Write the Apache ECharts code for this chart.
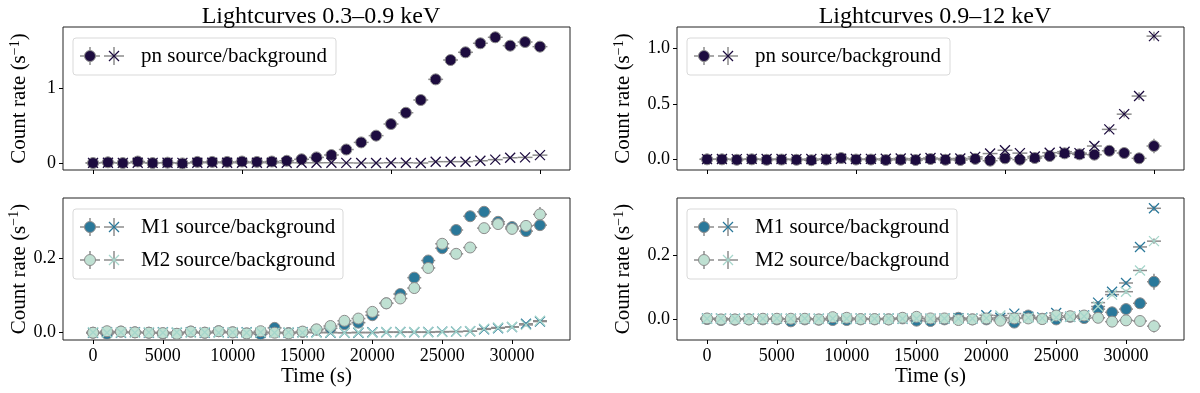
<!DOCTYPE html>
<html>
<head>
<meta charset="utf-8">
<script src="https://cdn.jsdelivr.net/npm/echarts@6/dist/echarts.min.js"></script>
<style>
  html, body { margin: 0; padding: 0; background: #fff; }
  #chart_container { width: 1200px; height: 393px; }
</style>
</head>
<body>
<div id="chart_container"></div>
<script>
// time bins (s): pn uses a coarser binning than MOS
var tPn = [0, 1067, 2133, 3200, 4267, 5333, 6400, 7467, 8533, 9600, 10667, 11733, 12800, 13867, 14933,
  16000, 17067, 18133, 19200, 20267, 21333, 22400, 23467, 24533, 25600, 26667, 27733, 28800, 29867, 30933, 32000];
var tMos = [0, 1000, 2000, 3000, 4000, 5000, 6000, 7000, 8000, 9000, 10000, 11000, 12000, 13000, 14000, 15000,
  16000, 17000, 18000, 19000, 20000, 21000, 22000, 23000, 24000, 25000, 26000, 27000, 28000, 29000, 30000, 31000, 32000];

// 0.3-0.9 keV, pn
var pnSoftSrc = [0.00, 0.01, 0.00, 0.02, 0.00, 0.005, -0.005, 0.015, 0.015, 0.015, 0.02, 0.015, 0.02, 0.03, 0.05,
  0.075, 0.107, 0.18, 0.275, 0.365, 0.52, 0.67, 0.84, 1.115, 1.373, 1.476, 1.596, 1.676, 1.564, 1.613, 1.551];
var pnSoftSrcErr = [0.02, 0.02, 0.02, 0.02, 0.02, 0.02, 0.02, 0.02, 0.02, 0.02, 0.02, 0.02, 0.02, 0.02, 0.025,
  0.025, 0.025, 0.03, 0.03, 0.03, 0.035, 0.035, 0.04, 0.04, 0.045, 0.045, 0.045, 0.045, 0.045, 0.045, 0.045];
var pnSoftBg = [0.002, 0.003, 0.002, 0.004, 0.002, 0.003, 0.002, 0.003, 0.004, 0.003, 0.003, 0.004, 0.003, 0.004,
  0.003, 0.003, 0.004, 0.002, 0.0, 0.0, 0.004, 0.004, 0.0, 0.018, 0.018, 0.018, 0.03, 0.045, 0.07, 0.075, 0.105];
var pnSoftBgErr = [0.008, 0.008, 0.008, 0.008, 0.008, 0.008, 0.008, 0.008, 0.008, 0.008, 0.008, 0.008, 0.008, 0.008,
  0.008, 0.008, 0.008, 0.008, 0.008, 0.008, 0.008, 0.008, 0.008, 0.008, 0.008, 0.008, 0.008, 0.008, 0.008, 0.008, 0.008];

// 0.9-12 keV, pn
var pnHardSrc = [0.0, 0.0, -0.004, 0.0, -0.004, -0.002, -0.004, -0.008, -0.002, 0.012, -0.002, -0.002, -0.006, -0.004,
  -0.006, 0.003, -0.004, -0.006, 0.004, -0.012, 0.009, -0.003, 0.012, 0.03, 0.054, 0.045, 0.042, 0.077, 0.057, 0.009, 0.12];
var pnHardSrcErr = [0.015, 0.015, 0.015, 0.015, 0.015, 0.015, 0.015, 0.015, 0.015, 0.015, 0.015, 0.015, 0.015, 0.015,
  0.015, 0.015, 0.015, 0.015, 0.015, 0.015, 0.015, 0.015, 0.015, 0.015, 0.015, 0.015, 0.015, 0.02, 0.02, 0.02, 0.065];
var pnHardBg = [0.002, 0.003, 0.002, 0.004, 0.003, 0.003, 0.002, 0.003, 0.004, 0.006, 0.003, 0.004, 0.005, 0.008,
  0.006, 0.012, 0.007, 0.008, 0.022, 0.052, 0.082, 0.056, 0.026, 0.06, 0.069, 0.056, 0.12, 0.27, 0.407, 0.57, 1.11];
var pnHardBgErr = [0.01, 0.01, 0.01, 0.01, 0.01, 0.01, 0.01, 0.01, 0.01, 0.01, 0.01, 0.01, 0.01, 0.01, 0.01, 0.01,
  0.01, 0.01, 0.01, 0.01, 0.01, 0.01, 0.01, 0.01, 0.01, 0.01, 0.02, 0.025, 0.03, 0.035, 0.04];

// 0.3-0.9 keV, MOS1 / MOS2
var m1SoftSrc = [0.0, -0.003, 0.003, 0.001, 0.0, -0.002, -0.003, 0.003, 0.0, 0.004, 0.001, -0.002, -0.004, 0.013,
  -0.001, 0.002, 0.008, 0.012, 0.023, 0.027, 0.047, 0.079, 0.104, 0.148, 0.194, 0.227, 0.276, 0.313, 0.325, 0.298,
  0.284, 0.273, 0.289];
var m1SoftSrcErr = [0.004, 0.004, 0.004, 0.004, 0.004, 0.004, 0.004, 0.004, 0.004, 0.004, 0.004, 0.004, 0.005, 0.005,
  0.005, 0.005, 0.006, 0.006, 0.007, 0.007, 0.008, 0.008, 0.009, 0.009, 0.01, 0.01, 0.011, 0.012, 0.013, 0.013,
  0.013, 0.014, 0.016];
var m1SoftBg = [0.0, 0.001, 0.0, 0.001, 0.0, 0.001, 0.0, 0.001, 0.0, 0.001, 0.0, 0.001, 0.0, 0.001, 0.0, 0.001,
  0.001, 0.0, 0.0, 0.0, 0.001, 0.001, 0.002, 0.001, 0.002, 0.003, 0.003, 0.004, 0.009, 0.012, 0.015, 0.024, 0.03];
var m1SoftBgErr = [0.002, 0.002, 0.002, 0.002, 0.002, 0.002, 0.002, 0.002, 0.002, 0.002, 0.002, 0.002, 0.002, 0.002,
  0.002, 0.002, 0.002, 0.002, 0.002, 0.002, 0.002, 0.002, 0.002, 0.002, 0.002, 0.002, 0.002, 0.002, 0.003, 0.003,
  0.003, 0.004, 0.004];
var m2SoftSrc = [0.0, 0.004, 0.003, 0.001, 0.0, -0.001, -0.003, 0.003, 0.0, 0.004, 0.001, -0.002, 0.004, 0.0,
  -0.002, 0.003, 0.009, 0.018, 0.032, 0.038, 0.056, 0.079, 0.092, 0.12, 0.174, 0.239, 0.212, 0.229, 0.281, 0.292,
  0.279, 0.287, 0.318];
var m2SoftSrcErr = [0.004, 0.004, 0.004, 0.004, 0.004, 0.004, 0.004, 0.004, 0.004, 0.004, 0.004, 0.004, 0.005, 0.005,
  0.005, 0.005, 0.006, 0.006, 0.007, 0.007, 0.008, 0.008, 0.009, 0.009, 0.01, 0.01, 0.011, 0.012, 0.013, 0.013,
  0.013, 0.014, 0.02];
var m2SoftBg = [0.001, 0.0, 0.001, 0.0, 0.001, 0.0, 0.001, 0.0, 0.001, 0.0, 0.001, 0.0, 0.001, 0.0, 0.001, 0.0,
  0.0, 0.001, 0.0, 0.001, 0.0, 0.002, 0.001, 0.002, 0.001, 0.002, 0.003, 0.004, 0.011, 0.014, 0.016, 0.021, 0.032];
var m2SoftBgErr = m1SoftBgErr;

// 0.9-12 keV, MOS1 / MOS2
var m1HardSrc = [0.001, -0.002, -0.001, 0.0, 0.0, 0.0, -0.006, 0.0, -0.001, -0.002, -0.002, 0.0, 0.0, 0.0, 0.003,
  -0.004, -0.005, 0.0, 0.005, 0.0, 0.0, 0.0, -0.01, 0.012, 0.002, 0.0, 0.008, 0.004, 0.032, 0.022, 0.032, 0.05, 0.117];
var m1HardSrcErr = [0.006, 0.006, 0.006, 0.006, 0.006, 0.006, 0.006, 0.006, 0.006, 0.006, 0.006, 0.006, 0.006, 0.006,
  0.006, 0.006, 0.006, 0.006, 0.006, 0.006, 0.006, 0.006, 0.007, 0.007, 0.007, 0.007, 0.008, 0.008, 0.01, 0.01,
  0.01, 0.012, 0.025];
var m1HardBg = [0.003, 0.003, 0.002, 0.003, 0.002, 0.003, 0.002, 0.003, 0.002, 0.003, 0.002, 0.003, 0.002, 0.003,
  0.002, 0.003, 0.002, 0.003, 0.004, 0.003, 0.013, 0.005, 0.018, 0.008, 0.006, 0.02, 0.008, 0.012, 0.052, 0.086,
  0.113, 0.225, 0.345];
var m1HardBgErr = [0.003, 0.003, 0.003, 0.003, 0.003, 0.003, 0.003, 0.003, 0.003, 0.003, 0.003, 0.003, 0.003, 0.003,
  0.003, 0.003, 0.003, 0.003, 0.003, 0.003, 0.003, 0.003, 0.003, 0.003, 0.003, 0.003, 0.004, 0.004, 0.005, 0.005,
  0.006, 0.007, 0.008];
var m2HardSrc = [0.003, 0.0, 0.0, 0.0, 0.002, 0.002, 0.002, 0.002, 0.0, 0.007, 0.005, 0.001, 0.001, 0.0, 0.005,
  0.008, 0.003, 0.003, -0.002, 0.0, 0.003, -0.004, 0.003, 0.003, 0.001, 0.012, 0.01, 0.012, 0.005, -0.007, -0.003,
  -0.005, -0.021];
var m2HardSrcErr = [0.006, 0.006, 0.006, 0.006, 0.006, 0.006, 0.006, 0.006, 0.006, 0.006, 0.006, 0.006, 0.006, 0.006,
  0.006, 0.006, 0.006, 0.006, 0.006, 0.006, 0.006, 0.006, 0.007, 0.007, 0.007, 0.007, 0.008, 0.008, 0.008, 0.008,
  0.009, 0.01, 0.02];
var m2HardBg = [0.002, 0.003, 0.002, 0.003, 0.002, 0.003, 0.002, 0.003, 0.002, 0.003, 0.002, 0.003, 0.002, 0.003,
  0.002, 0.003, 0.002, 0.003, 0.002, 0.003, 0.004, 0.012, 0.004, 0.005, 0.004, 0.006, 0.008, 0.01, 0.04, 0.077,
  0.086, 0.152, 0.243];
var m2HardBgErr = m1HardBgErr;

var xTicksTop = [0, 10667, 21333, 32000];
var xTicksBottom = [0, 5000, 10000, 15000, 20000, 25000, 30000];
var yTicks = [[0, 1], [0, 0.2], [0, 0.5, 1.0], [0, 0.2]];
var yRanges = [[-0.093, 1.813], [-0.0196, 0.362], [-0.096, 1.192], [-0.064, 0.377]];
var titles = ["Lightcurves 0.3–0.9 keV", "Lightcurves 0.9–12 keV"];

var C_PN = "#1d0c3f", C_M1 = "#2a789a", C_M2 = "#bfe0d2", C_M2X = "#a6d6cb", GREY = "#8c8c8c";
var FONT = '"Liberation Serif", "Times New Roman", serif';

var dom = document.getElementById("chart_container");
var myChart = echarts.init(dom, null, { renderer: "canvas" });

var grids = [
  { left: 63, top: 27, width: 507, height: 143 },
  { left: 63, top: 198, width: 507, height: 142 },
  { left: 677, top: 27, width: 507, height: 143 },
  { left: 677, top: 198, width: 507, height: 142 }
];

function rows(ts, vals, errs, xe) {
  return ts.map(function (t, i) { return [t, vals[i], errs[i], xe]; });
}

function errRender(params, api) {
  var x = api.value(0), y = api.value(1), ye = api.value(2), xe = api.value(3);
  var l = api.coord([x - xe, y]), r = api.coord([x + xe, y]);
  var t = api.coord([x, y + ye]), b = api.coord([x, y - ye]);
  var st = { stroke: GREY, lineWidth: 1.5 };
  return {
    type: "group",
    children: [
      { type: "line", shape: { x1: l[0], y1: l[1], x2: r[0], y2: r[1] }, style: st },
      { type: "line", shape: { x1: t[0], y1: t[1], x2: b[0], y2: b[1] }, style: st }
    ]
  };
}

var series = [];
function addSet(k, data, color, kind) {
  series.push({
    type: "custom", xAxisIndex: k, yAxisIndex: k, renderItem: errRender, clip: true,
    encode: { x: 0, y: 1 }, data: data, silent: true
  });
  if (kind === "o") {
    series.push({
      type: "scatter", xAxisIndex: k, yAxisIndex: k, data: data, symbol: "circle", symbolSize: 11,
      itemStyle: { color: color, borderColor: GREY, borderWidth: 1, opacity: 1 }, silent: true
    });
  } else {
    series.push({
      type: "scatter", xAxisIndex: k, yAxisIndex: k, data: data, symbol: "path://M0,0L10,10M10,0L0,10",
      symbolSize: 10,
      itemStyle: { color: "rgba(0,0,0,0)", borderColor: color, borderWidth: 1.3, opacity: 1 }, silent: true
    });
  }
}

addSet(0, rows(tPn, pnSoftSrc, pnSoftSrcErr, 533), C_PN, "o");
addSet(0, rows(tPn, pnSoftBg, pnSoftBgErr, 533), C_PN, "x");
addSet(1, rows(tMos, m1SoftSrc, m1SoftSrcErr, 500), C_M1, "o");
addSet(1, rows(tMos, m1SoftBg, m1SoftBgErr, 500), C_M1, "x");
addSet(1, rows(tMos, m2SoftSrc, m2SoftSrcErr, 500), C_M2, "o");
addSet(1, rows(tMos, m2SoftBg, m2SoftBgErr, 500), C_M2X, "x");
addSet(2, rows(tPn, pnHardSrc, pnHardSrcErr, 533), C_PN, "o");
addSet(2, rows(tPn, pnHardBg, pnHardBgErr, 533), C_PN, "x");
addSet(3, rows(tMos, m1HardSrc, m1HardSrcErr, 500), C_M1, "o");
addSet(3, rows(tMos, m1HardBg, m1HardBgErr, 500), C_M1, "x");
addSet(3, rows(tMos, m2HardSrc, m2HardSrcErr, 500), C_M2, "o");
addSet(3, rows(tMos, m2HardBg, m2HardBgErr, 500), C_M2X, "x");

var xAxes = grids.map(function (g, k) {
  var bottom = k === 1 || k === 3;
  return {
    type: "value", gridIndex: k, min: -2150, max: 34150,
    splitLine: { show: false },
    axisLine: { show: false, onZero: false },
    axisTick: { show: true, length: 4, inside: false, lineStyle: { color: "#000" },
      customValues: bottom ? xTicksBottom : xTicksTop },
    axisLabel: { show: bottom, customValues: xTicksBottom, color: "#000", fontSize: 18,
      fontFamily: FONT, margin: 7, formatter: function (v) { return String(v); } },
    name: bottom ? "Time (s)" : "", nameLocation: "middle", nameGap: 25,
    nameTextStyle: { color: "#000", fontSize: 21, fontFamily: FONT }
  };
});

var yAxes = grids.map(function (g, k) {
  return {
    type: "value", gridIndex: k, min: yRanges[k][0], max: yRanges[k][1],
    splitLine: { show: false },
    axisLine: { show: false, onZero: false },
    axisTick: { show: true, length: 4, lineStyle: { color: "#000" }, customValues: yTicks[k] },
    axisLabel: {
      customValues: yTicks[k], color: "#000", fontSize: 18, fontFamily: FONT, margin: 7,
      formatter: function (v) { return k === 0 ? String(Math.round(v)) : v.toFixed(1); }
    },
    name: "Count rate (s{sup|−1})", nameLocation: "middle", nameGap: k < 2 ? 32 : 42,
    nameTextStyle: {
      color: "#000", fontSize: 21, fontFamily: FONT,
      rich: { sup: { fontSize: 14, fontFamily: FONT, color: "#000", padding: [0, 0, 9, 0] } }
    }
  };
});

// legend boxes (drawn like matplotlib's legend handles: marker + error cross)
function handle(cx, cy, color, kind) {
  var items = [
    { type: "line", shape: { x1: cx - 10, y1: cy, x2: cx + 10, y2: cy }, style: { stroke: GREY, lineWidth: 1.5 } },
    { type: "line", shape: { x1: cx, y1: cy - 9, x2: cx, y2: cy + 9 }, style: { stroke: GREY, lineWidth: 1.5 } }
  ];
  if (kind === "o") {
    items.push({ type: "circle", shape: { cx: cx, cy: cy, r: 5.5 }, style: { fill: color, stroke: GREY, lineWidth: 1 } });
  } else {
    items.push({ type: "polyline", shape: { points: [[cx - 5, cy - 5], [cx + 5, cy + 5]] }, style: { stroke: color, lineWidth: 1.3 } });
    items.push({ type: "polyline", shape: { points: [[cx + 5, cy - 5], [cx - 5, cy + 5]] }, style: { stroke: color, lineWidth: 1.3 } });
  }
  return items;
}

function legendBox(g, entries) {
  var x0 = g.left + 10, y0 = g.top + 11;
  var h = entries.length === 1 ? 37 : 70;
  var w = entries.length === 1 ? 263 : 270;
  var els = [{
    type: "rect", shape: { x: x0, y: y0, width: w, height: h, r: 3 },
    style: { fill: "rgba(255,255,255,0.8)", stroke: "#d9d9d9", lineWidth: 1 }
  }];
  entries.forEach(function (e, i) {
    var cy = y0 + 18 + i * 33;
    els = els.concat(handle(x0 + 17, cy, e.color, "o"), handle(x0 + 41, cy, e.xcolor, "x"));
    els.push({
      type: "text", x: x0 + 68, y: cy,
      style: { text: e.label, fill: "#000", fontSize: 21, fontFamily: FONT, verticalAlign: "middle" }
    });
  });
  return { type: "group", children: els };
}

var legendEntries = [
  [{ label: "pn source/background", color: C_PN, xcolor: C_PN }],
  [{ label: "M1 source/background", color: C_M1, xcolor: C_M1 }, { label: "M2 source/background", color: C_M2, xcolor: C_M2X }],
  [{ label: "pn source/background", color: C_PN, xcolor: C_PN }],
  [{ label: "M1 source/background", color: C_M1, xcolor: C_M1 }, { label: "M2 source/background", color: C_M2, xcolor: C_M2X }]
];

var option = {
  animation: false,
  backgroundColor: "#fff",
  title: [
    { text: titles[0], left: 316, top: 0, textAlign: "center",
      textStyle: { fontFamily: FONT, fontSize: 24, fontWeight: "normal", color: "#000" } },
    { text: titles[1], left: 930, top: 0, textAlign: "center",
      textStyle: { fontFamily: FONT, fontSize: 24, fontWeight: "normal", color: "#000" } }
  ],
  grid: grids.map(function (g) {
    return { left: g.left, top: g.top, width: g.width, height: g.height, show: true,
      borderColor: "#222", borderWidth: 1, backgroundColor: "transparent" };
  }),
  xAxis: xAxes,
  yAxis: yAxes,
  series: series,
  graphic: grids.map(function (g, k) { return legendBox(g, legendEntries[k]); })
};

myChart.setOption(option);
window.addEventListener("resize", myChart.resize);
</script>
</body>
</html>
